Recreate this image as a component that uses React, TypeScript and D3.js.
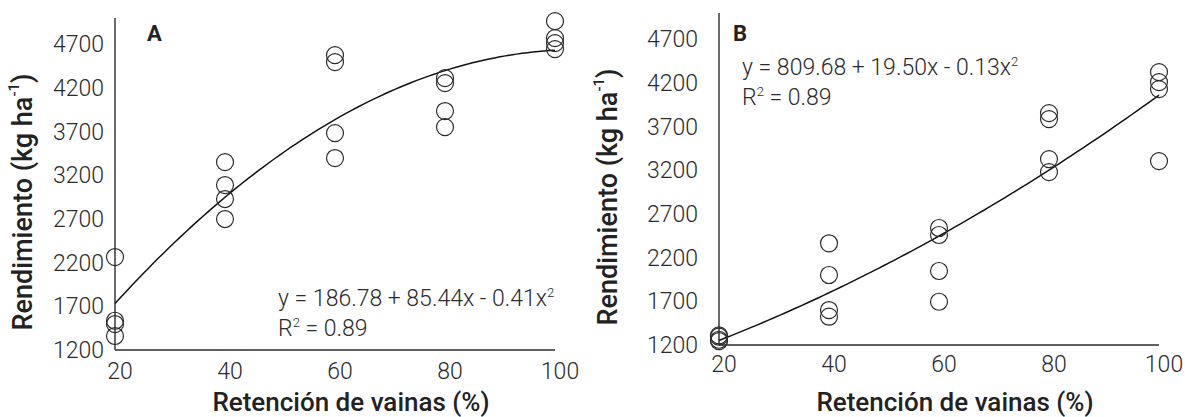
import * as d3 from "d3";

// Retención de vainas (%) levels
const retention = [20, 40, 60, 80, 100];

// yield observations (kg ha-1), four replicates per level
const yieldA = [
  [2264, 1535, 1497, 1360],
  [3351, 3088, 2928, 2699],
  [4575, 4495, 3683, 3397],
  [4312, 4255, 3935, 3751],
  [4964, 4770, 4713, 4644],
];
const yieldB = [
  [1310, 1295, 1260, 1245],
  [2364, 2001, 1600, 1524],
  [2539, 2459, 2047, 1695],
  [3854, 3786, 3328, 3179],
  [4324, 4209, 4129, 3305],
];

// quadratic fits: b0 + b1 x + b2 x^2
const fitA = [186.78, 85.44, -0.41];
const fitB = [809.68, 19.5, 0.13];

const yTicks = [1200, 1700, 2200, 2700, 3200, 3700, 4200, 4700];

const W = 1185;
const H = 417;
const ink = "#2b2b2b";

type PanelProps = {
  letter: string;
  data: number[][];
  fit: number[];
  eq: string;
  x0: number;
  x1: number;
  yBottom: number;
  yTop: number;
  tickPad: number;
  xTickY: number;
  titleX: number;
  eqX: number;
  eqY: number;
  letterX: number;
};

function Panel(p: PanelProps) {
  const x = d3.scaleLinear().domain([20, 100]).range([p.x0, p.x1]);
  const y = d3.scaleLinear().domain([1200, 5000]).range([p.yBottom, p.yTop]);
  const curve = d3
    .line<number>()
    .x((v) => x(v))
    .y((v) => y(p.fit[0] + p.fit[1] * v + p.fit[2] * v * v))
    .curve(d3.curveMonotoneX);
  const xs = d3.range(20, 100.01, 1);
  const midY = (p.yBottom + p.yTop) / 2;

  return (
    <g>
      <line x1={p.x0} x2={p.x0} y1={p.yTop} y2={p.yBottom} stroke={ink} strokeWidth={1.4} />
      <line x1={p.x0} x2={p.x1} y1={p.yBottom} y2={p.yBottom} stroke={ink} strokeWidth={1.4} />

      {yTicks.map((t) => (
        <text
          key={t}
          x={p.x0 - p.tickPad}
          y={y(t) + 2}
          textAnchor="end"
          dominantBaseline="middle"
          fontSize={23}
          fontWeight={300}
          fill={ink}
        >
          {t}
        </text>
      ))}
      {retention.map((t) => (
        <text
          key={t}
          x={x(t) + 5}
          y={p.xTickY}
          textAnchor="middle"
          dominantBaseline="middle"
          fontSize={23}
          fontWeight={300}
          fill={ink}
        >
          {t}
        </text>
      ))}

      <text
        transform={`translate(${p.titleX},${midY + 18}) rotate(-90)`}
        textAnchor="middle"
        dominantBaseline="middle"
        fontSize={27}
        fontWeight={500}
        fill="#222"
      >
        Rendimiento (kg ha
        <tspan dy={-10} fontSize={15}>-1</tspan>
        <tspan dy={10}>)</tspan>
      </text>
      <text
        x={(p.x0 + p.x1) / 2 + 16}
        y={404}
        textAnchor="middle"
        dominantBaseline="middle"
        fontSize={26}
        fontWeight={500}
        fill="#222"
      >
        Retención de vainas (%)
      </text>

      <text x={p.letterX} y={41} fontSize={22} fontWeight={700} fill="#222">
        {p.letter}
      </text>

      <path d={curve(xs) ?? ""} fill="none" stroke="#111" strokeWidth={1.5} />

      {p.data.map((reps, i) =>
        reps.map((v, j) => (
          <circle
            key={`${i}-${j}`}
            cx={x(retention[i])}
            cy={y(v)}
            r={8.5}
            fill="none"
            stroke={ink}
            strokeWidth={1.2}
          />
        ))
      )}

      <text x={p.eqX} y={p.eqY} fontSize={23} fontWeight={300} fill={ink}>
        {p.eq}
        <tspan dy={-9} fontSize={13}>2</tspan>
      </text>
      <text x={p.eqX} y={p.eqY + 30} fontSize={23} fontWeight={300} fill={ink}>
        R<tspan dy={-9} fontSize={13}>2</tspan>
        <tspan dy={9}> = 0.89</tspan>
      </text>
    </g>
  );
}

export default function App() {
  return (
    <svg
      width={W}
      height={H}
      style={{ position: "absolute", left: 0, top: 0, background: "#fff", fontFamily: "Roboto, 'Open Sans', sans-serif" }}
    >
      <Panel
        letter="A"
        data={yieldA}
        fit={fitA}
        eq="y = 186.78 + 85.44x - 0.41x"
        x0={115}
        x1={555}
        yBottom={350}
        yTop={18}
        tickPad={11}
        xTickY={373}
        titleX={25}
        eqX={278}
        eqY={306}
        letterX={147}
      />
      <Panel
        letter="B"
        data={yieldB}
        fit={fitB}
        eq="y = 809.68 + 19.50x - 0.13x"
        x0={719}
        x1={1159}
        yBottom={345}
        yTop={13}
        tickPad={21}
        xTickY={366}
        titleX={610}
        eqX={742}
        eqY={75}
        letterX={733}
      />
    </svg>
  );
}
